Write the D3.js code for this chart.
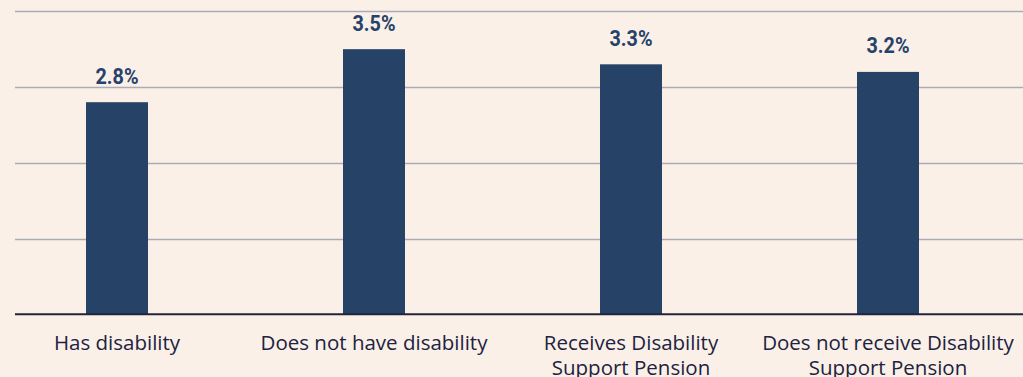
<!DOCTYPE html>
<html>
<head>
<meta charset="utf-8">
<script src="https://cdn.jsdelivr.net/npm/d3@7"></script>
<style>
  html, body { margin: 0; padding: 0; background: #FBF0E8; }
  svg { display: block; }
</style>
</head>
<body>
<svg id="chart" width="1023" height="377"></svg>
<script>
// Share of people (%) by disability status
const categories = [
  ["Has disability"],
  ["Does not have disability"],
  ["Receives Disability", "Support Pension"],
  ["Does not receive Disability", "Support Pension"]
];
const values = [2.8, 3.5, 3.3, 3.2];
const valueLabels = ["2.8%", "3.5%", "3.3%", "3.2%"];
const gridTicks = [1, 2, 3, 4];

const W = 1023, H = 377;
const svg = d3.select("#chart");
svg.append("rect").attr("width", W).attr("height", H).attr("fill", "#FBF0E8");

const x = d3.scalePoint()
  .domain(d3.range(categories.length))
  .range([-11.5, 1016.5])
  .padding(0.5);

const y = d3.scaleLinear().domain([0, 4]).range([314.3, 11.3]);
const barW = 62;
const left = 15;

// gridlines
svg.append("g").selectAll("line")
  .data(gridTicks)
  .join("line")
  .attr("x1", left).attr("x2", W)
  .attr("y1", d => Math.round(y(d)) + 0.5)
  .attr("y2", d => Math.round(y(d)) + 0.5)
  .attr("stroke", "#ABAAB6")
  .attr("stroke-width", 1.3);

// bars
svg.append("g").selectAll("rect")
  .data(values)
  .join("rect")
  .attr("x", (d, i) => x(i) - barW / 2)
  .attr("width", barW)
  .attr("y", d => y(d))
  .attr("height", d => y(0) - y(d))
  .attr("fill", "#264267");

// baseline
svg.append("line")
  .attr("x1", left).attr("x2", W)
  .attr("y1", y(0)).attr("y2", y(0))
  .attr("stroke", "#23233A")
  .attr("stroke-width", 2);

// value labels
svg.append("g").selectAll("text")
  .data(values)
  .join("text")
  .attr("transform", (d, i) => `translate(${x(i)},${y(d) - 18.5}) scale(0.92,1)`)
  .attr("text-anchor", "middle")
  .attr("font-family", "Roboto, sans-serif")
  .attr("font-weight", 700)
  .attr("font-size", 21.5)
  .attr("fill", "#26426A")
  .text((d, i) => valueLabels[i]);

// category labels
const cat = svg.append("g").selectAll("text")
  .data(categories)
  .join("text")
  .attr("x", (d, i) => x(i))
  .attr("y", 350)
  .attr("text-anchor", "middle")
  .attr("font-family", "'Open Sans', sans-serif")
  .attr("font-size", 20.5)
  .attr("fill", "#20223F");
cat.selectAll("tspan")
  .data(d => d)
  .join("tspan")
  .attr("x", function() { return d3.select(this.parentNode).attr("x"); })
  .attr("dy", (d, i) => i === 0 ? 0 : 25)
  .text(d => d);
</script>
</body>
</html>
